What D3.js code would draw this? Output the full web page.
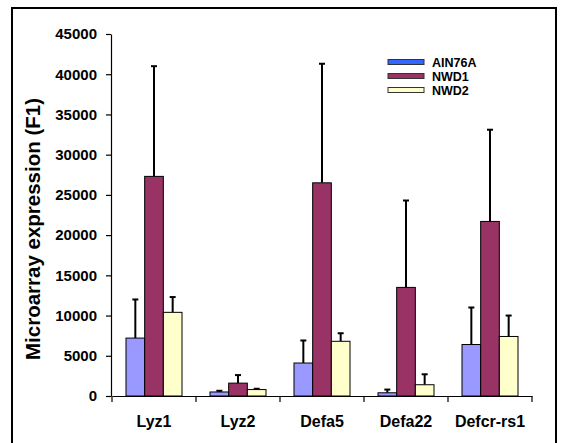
<!DOCTYPE html>
<html>
<head>
<meta charset="utf-8">
<script src="https://cdn.jsdelivr.net/npm/d3@7"></script>
<style>
  body { margin: 0; background: #fff; }
  text { font-family: Arial, "Liberation Sans", sans-serif; font-weight: bold; }
</style>
</head>
<body>
<div class="chart"></div>
<script>
// data
var genes = ["Lyz1", "Lyz2", "Defa5", "Defa22", "Defcr-rs1"];
var groups = ["AIN76A", "NWD1", "NWD2"];
var ain76a = [7200, 500, 4100, 400, 6400];
var nwd1 = [27300, 1600, 26500, 13500, 21700];
var nwd2 = [10400, 800, 6800, 1400, 7400];
// top of each error bar
var ain76aErr = [12000, 650, 6900, 800, 11000];
var nwd1Err = [41000, 2600, 41300, 24300, 33100];
var nwd2Err = [12300, 900, 7800, 2700, 10000];
var yTicks = [0, 5000, 10000, 15000, 20000, 25000, 30000, 35000, 40000, 45000];

var barColor = ["#9999ff", "#993366", "#ffffcc"];
var legendColor = ["#3366ff", "#993366", "#ffffcc"];

var width = 565, height = 443;

var svg = d3.select(".chart")
    .append("svg")
    .attr("width", width)
    .attr("height", height);

// outer frame
svg.append("rect")
    .attr("x", 12).attr("y", 8)
    .attr("width", 544).attr("height", 460)
    .attr("fill", "none")
    .attr("stroke", "#000")
    .attr("stroke-width", 2);

var x = d3.scaleBand()
    .domain(genes)
    .range([112, 532]);

var xSub = d3.scaleBand()
    .domain(groups)
    .range([0, x.bandwidth()])
    .paddingOuter(0.75);

var y = d3.scaleLinear()
    .domain([0, 45000])
    .range([396, 34]);

// build rows for bars
var values = [ain76a, nwd1, nwd2];
var errs = [ain76aErr, nwd1Err, nwd2Err];
var rows = [];
genes.forEach(function (g, i) {
    groups.forEach(function (s, j) {
        rows.push({ gene: g, group: s, k: j, value: values[j][i], err: errs[j][i] });
    });
});

// error bars (drawn first so bar covers the bottom part)
var eb = svg.append("g");
eb.selectAll("line.v")
    .data(rows)
    .enter().append("line")
    .attr("x1", function (d) { return x(d.gene) + xSub(d.group) + xSub.bandwidth() / 2; })
    .attr("x2", function (d) { return x(d.gene) + xSub(d.group) + xSub.bandwidth() / 2; })
    .attr("y1", function (d) { return y(d.value); })
    .attr("y2", function (d) { return y(d.err); })
    .attr("stroke", "#000")
    .attr("stroke-width", 2);
eb.selectAll("line.c")
    .data(rows)
    .enter().append("line")
    .attr("x1", function (d) { return x(d.gene) + xSub(d.group) + xSub.bandwidth() / 2 - 3; })
    .attr("x2", function (d) { return x(d.gene) + xSub(d.group) + xSub.bandwidth() / 2 + 3; })
    .attr("y1", function (d) { return y(d.err); })
    .attr("y2", function (d) { return y(d.err); })
    .attr("stroke", "#000")
    .attr("stroke-width", 2);

// bars
svg.append("g")
    .selectAll("rect")
    .data(rows)
    .enter().append("rect")
    .attr("x", function (d) { return x(d.gene) + xSub(d.group); })
    .attr("y", function (d) { return y(d.value); })
    .attr("width", xSub.bandwidth())
    .attr("height", function (d) { return y(0) - y(d.value); })
    .attr("fill", function (d) { return barColor[d.k]; })
    .attr("stroke", "#000")
    .attr("stroke-width", 1);

// y axis
var yAxis = svg.append("g")
    .attr("transform", "translate(111,0)")
    .call(d3.axisLeft(y).tickValues(yTicks).tickFormat(d3.format("d")).tickSize(5).tickSizeOuter(0).tickPadding(9));
yAxis.selectAll("text").style("font-size", "15px").attr("fill", "#000");
yAxis.selectAll("path, line").attr("stroke", "#000").attr("stroke-width", 1.2);

// x axis
var xAxis = svg.append("g")
    .attr("transform", "translate(0,396)")
    .call(d3.axisBottom(x).tickSize(0).tickSizeOuter(0).tickPadding(20));
xAxis.selectAll("text").style("font-size", "16px").attr("fill", "#000");
xAxis.select("path").attr("stroke", "#000").attr("stroke-width", 1.2);
xAxis.selectAll(".bound")
    .data(genes.concat(["end"]))
    .enter().append("line")
    .attr("x1", function (d) { return d === "end" ? x.range()[1] : x(d); })
    .attr("x2", function (d) { return d === "end" ? x.range()[1] : x(d); })
    .attr("y1", 0).attr("y2", 6)
    .attr("stroke", "#000")
    .attr("stroke-width", 1.2);

// y axis title
svg.append("text")
    .attr("transform", "translate(40,229) rotate(-90)")
    .attr("text-anchor", "middle")
    .style("font-size", "20.5px")
    .text("Microarray expression (F1)");

// legend
var legend = svg.append("g");
var ly = [62, 76, 90];
legend.selectAll("rect")
    .data(groups)
    .enter().append("rect")
    .attr("x", 388)
    .attr("y", function (d, i) { return ly[i] - 2.5; })
    .attr("width", 36).attr("height", 5)
    .attr("fill", function (d, i) { return legendColor[i]; })
    .attr("stroke", "#333")
    .attr("stroke-width", 1);
legend.selectAll("text")
    .data(groups)
    .enter().append("text")
    .attr("x", 432)
    .attr("y", function (d, i) { return ly[i] + 4.5; })
    .style("font-size", "12.5px")
    .text(function (d) { return d; });
</script>
</body>
</html>
